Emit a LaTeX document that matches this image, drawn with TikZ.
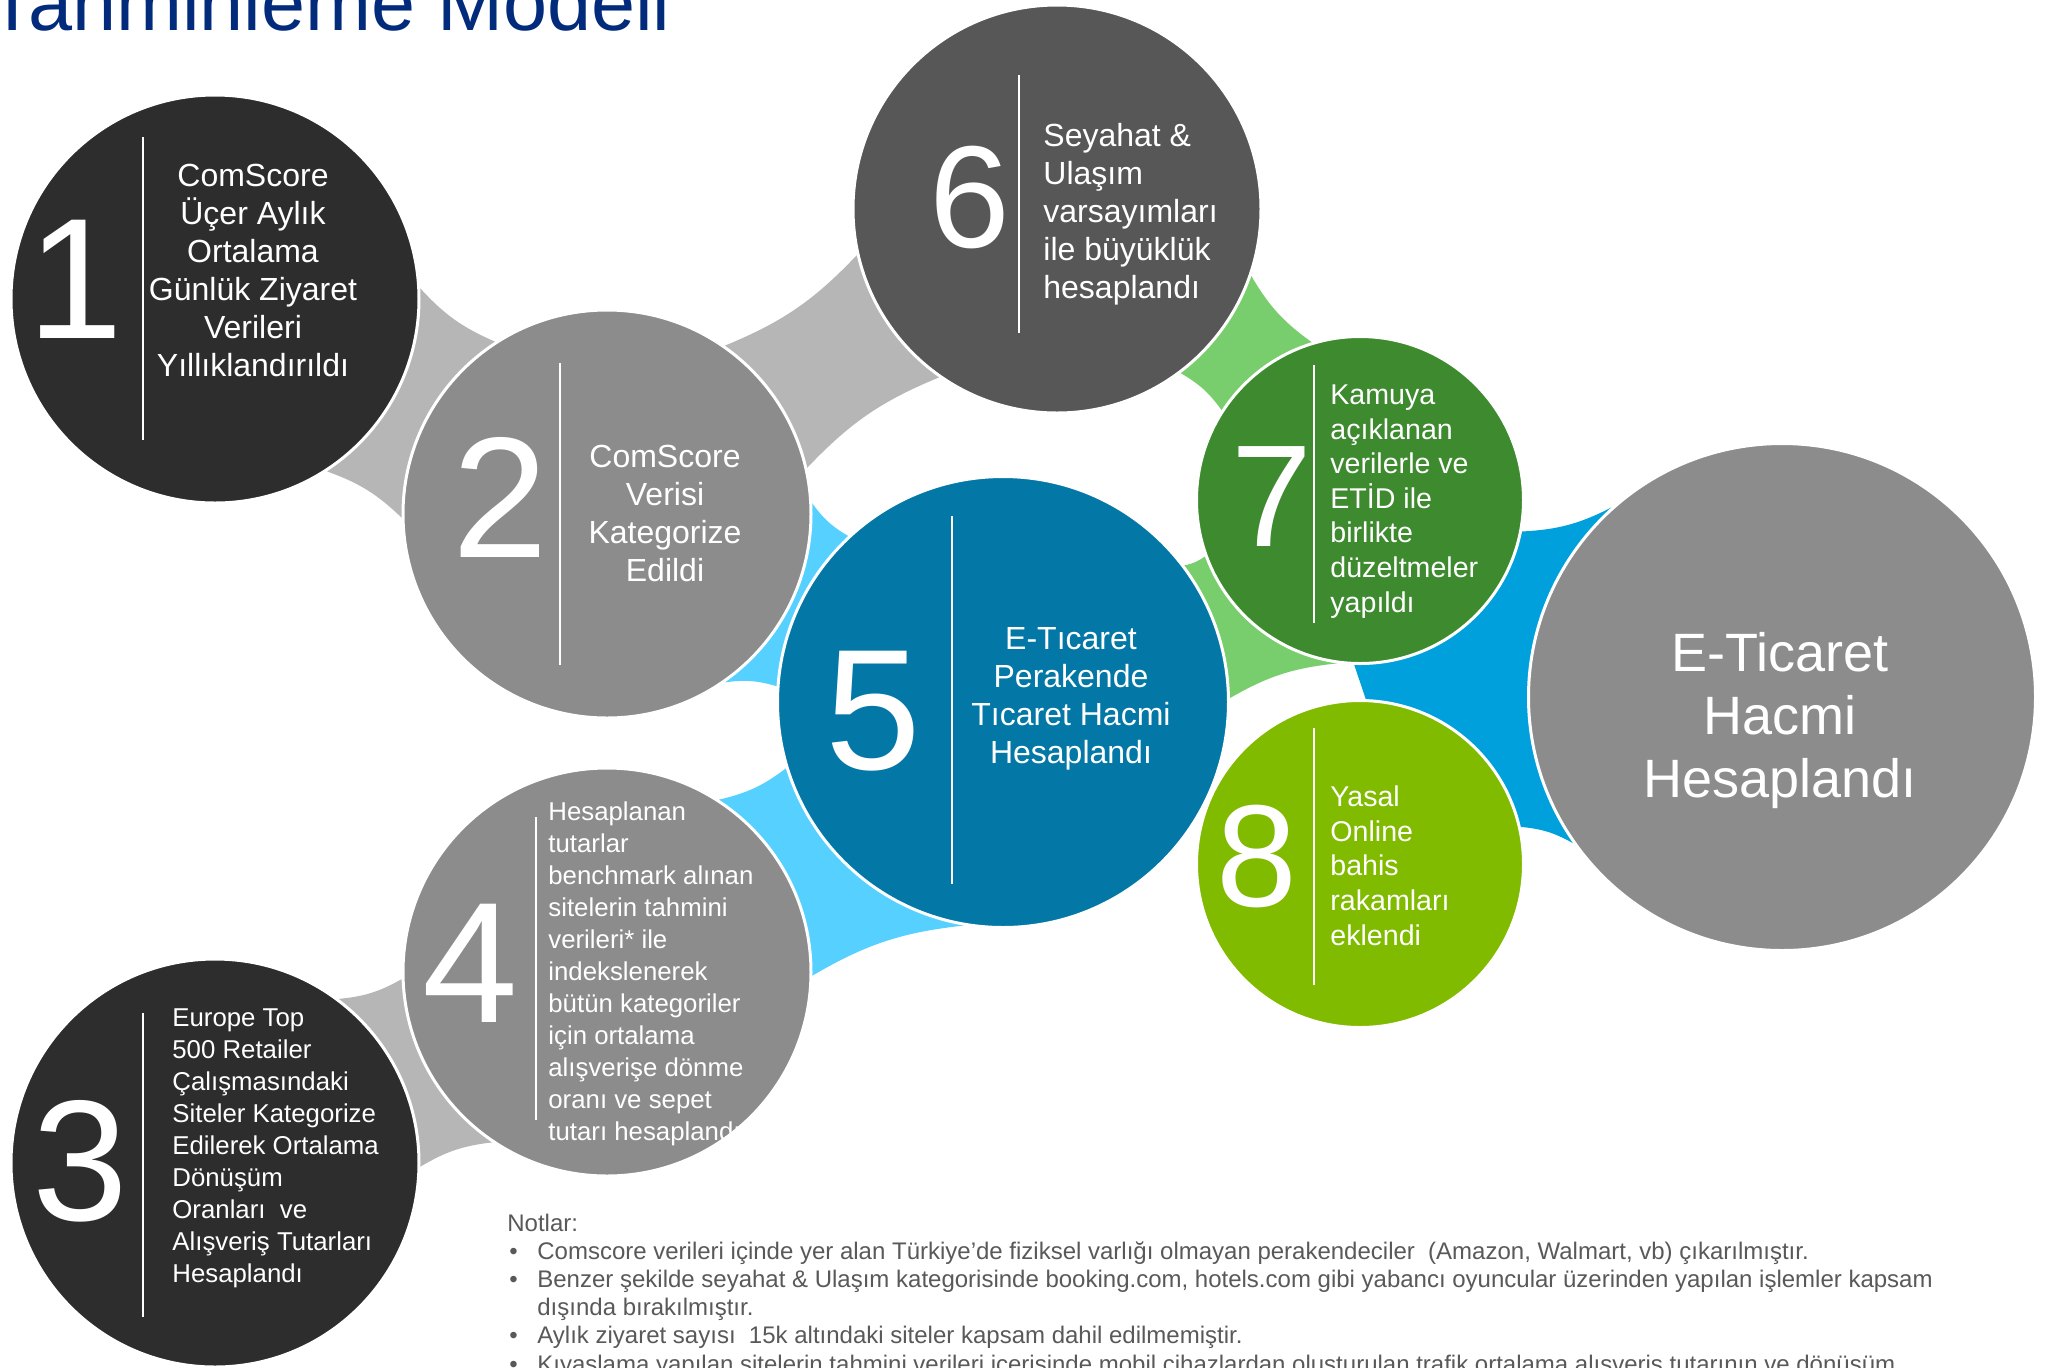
\documentclass[tikz,border=0pt]{standalone}
\usepackage{fontspec}
\setmainfont{Liberation Sans}
\usetikzlibrary{backgrounds}

\definecolor{darkstep}{HTML}{2D2D2D}
\definecolor{midstep}{HTML}{8C8C8C}
\definecolor{travelstep}{HTML}{575757}
\definecolor{tealstep}{HTML}{0378A6}
\definecolor{greenstep}{HTML}{3E8A2F}
\definecolor{limestep}{HTML}{80BB00}
\definecolor{graylink}{HTML}{B6B6B6}
\definecolor{skylink}{HTML}{55D0FF}
\definecolor{greenlink}{HTML}{78CD6C}
\definecolor{bluelink}{HTML}{00A0DC}
\definecolor{titleblue}{HTML}{022B7C}
\definecolor{notegray}{HTML}{595959}

\newcommand{\notebullet}{\makebox[15pt][l]{\hspace{1pt}\textbullet}}

\tikzset{
stepcircle/.style={circle, draw=white, line width=1.5pt, inner sep=0pt},
stepnum/.style={text=white, inner sep=0pt, font=\fontsize{86}{86}\selectfont},
smallnum/.style={text=white, inner sep=0pt, font=\fontsize{72.6}{72.6}\selectfont},
widetxt/.style={text=white, inner sep=0pt, font=\fontsize{16}{19}\selectfont},
greentxt/.style={text=white, inner sep=0pt, align=left, font=\fontsize{14.3}{17.3}\selectfont},
smalltxt/.style={text=white, inner sep=0pt, align=left, font=\fontsize{12.9}{16}\selectfont},
totaltxt/.style={text=white, inner sep=0pt, align=center, font=\fontsize{27}{31.5}\selectfont},
divider/.style={white, line width=1pt},
link/.style={bend right=12},
}

\begin{document}
\begin{tikzpicture}[x=0.5pt, y=-0.5pt]
\useasboundingbox (0,0) rectangle (2053,1367);
\clip (0,0) rectangle (2053,1367);

%% title;
\node[anchor=base west, inner sep=0pt, text=titleblue, font=\fontsize{39.6}{39.6}\selectfont] (title) at (-12,30) {Tahminleme Modeli};

%% steps;
\node[stepcircle, fill=darkstep, minimum size=204pt] (c1) at (215,299) {};
\node[stepcircle, fill=midstep, minimum size=204pt] (c2) at (607,514) {};
\node[stepcircle, fill=darkstep, minimum size=204pt] (c3) at (215,1163) {};
\node[stepcircle, fill=midstep, minimum size=204pt] (c4) at (607,972) {};
\node[stepcircle, fill=tealstep, minimum size=225.5pt] (c5) at (1003,702) {};
\node[stepcircle, fill=travelstep, minimum size=204pt] (c6) at (1057,209) {};
\node[stepcircle, fill=greenstep, minimum size=163.5pt] (c7) at (1360,500) {};
\node[stepcircle, fill=limestep, minimum size=163.5pt] (c8) at (1360,864) {};
\node[stepcircle, fill=midstep, minimum size=253.5pt] (total) at (1782,697) {};

%% links;
\begin{scope}[on background layer]
\fill[white] (0,0) rectangle (2053,1367);
\fill[graylink] (c1.3) to[link] (c2.123) -- (c2.center) -- (c2.181) to[link] (c1.-57) -- (c1.center) -- cycle;
\fill[graylink] (c2.55) to[link] (c6.193) -- (c6.center) -- (c6.235) to[link] (c2.13) -- (c2.center) -- cycle;
\fill[graylink] (c3.53) to[link] (c4.182) -- (c4.center) -- (c4.236) to[link] (c3.-1) -- (c3.center) -- cycle;
\fill[skylink] (c2.3) to[link] (c5.133) -- (c5.center) -- (c5.176) to[link] (c2.-55) -- (c2.center) -- cycle;
\fill[skylink] (c4.57) to[link] (c5.197) -- (c5.center) -- (c5.260) to[link] (c4.-1) -- (c4.center) -- cycle;
\fill[greenlink] (c6.-19) to[link] (c7.107) -- (c7.center) -- (c7.147) to[link] (c6.-53) -- (c6.center) -- cycle;
\fill[greenlink] (c5.37) to[link] (c7.200) -- (c7.center) -- (c7.262) to[link] (c5.1) -- (c5.center) -- cycle;
\fill[bluelink] (c7.-11) to[link] (total.132) -- (total.center) -- (total.215) to[link] (c8.13) -- (c8.center) -- (c8.88) -- (c7.268) -- (c7.center) -- cycle;
\end{scope}

%% dividers;
\draw[divider] (143,137) -- (143,440);
\draw[divider] (560,363) -- (560,665);
\draw[divider] (143,1013) -- (143,1317);
\draw[divider] (536,817) -- (536,1120);
\draw[divider] (952,516) -- (952,884);
\draw[divider] (1019,75) -- (1019,333);
\draw[divider] (1314,365) -- (1314,623);
\draw[divider] (1314,728) -- (1314,985);

%% numbers;
\node[stepnum] (n1) at (75,279) {1};
\node[stepnum] (n2) at (500,497) {2};
\node[stepnum] (n3) at (80,1161) {3};
\node[stepnum] (n4) at (470,963) {4};
\node[stepnum] (n5) at (873,711) {5};
\node[smallnum] (n6) at (970,198) {6};
\node[smallnum] (n7) at (1272,497) {7};
\node[smallnum] (n8) at (1257,857) {8};

%% texts (anchored on the last line);
\node[widetxt, align=center, anchor=base] (t1) at (253,376) {ComScore\\Üçer Aylık\\Ortalama\\Günlük Ziyaret\\Verileri\\Yıllıklandırıldı};
\node[widetxt, align=center, anchor=base] (t2) at (665,581) {ComScore\\Verisi\\Kategorize\\Edildi};
\node[smalltxt, anchor=base west] (t3) at (172,1282) {Europe Top\\500 Retailer\\Çalışmasındaki\\Siteler Kategorize\\Edilerek Ortalama\\Dönüşüm\\Oranları\ \ ve\\Alışveriş Tutarları\\Hesaplandı};
\node[smalltxt, anchor=base west] (t4) at (548,1140) {Hesaplanan\\tutarlar\\benchmark alınan\\sitelerin tahmini\\verileri* ile\\indekslenerek\\bütün kategoriler\\için ortalama\\alışverişe dönme\\oranı ve sepet\\tutarı hesaplandı};
\node[widetxt, align=center, anchor=base] (t5) at (1071,763) {E-Tıcaret\\Perakende\\Tıcaret Hacmi\\Hesaplandı};
\node[widetxt, align=left, anchor=base west] (t6) at (1043,298) {Seyahat \&\\Ulaşım\\varsayımları\\ile büyüklük\\hesaplandı};
\node[greentxt, anchor=base west] (t7) at (1330,612) {Kamuya\\açıklanan\\verilerle ve\\ETİD ile\\birlikte\\düzeltmeler\\yapıldı};
\node[greentxt, anchor=base west] (t8) at (1330,945) {Yasal\\Online\\bahis\\rakamları\\eklendi};
\node[totaltxt, anchor=base] (ttotal) at (1780,797) {E-Ticaret\\Hacmi\\Hesaplandı};

%% notes;
\node[anchor=base west, inner sep=0pt, align=left, text=notegray, font=\fontsize{12}{14.1}\selectfont] (notes) at (507,1372) {Notlar:\\
\notebullet Comscore verileri içinde yer alan Türkiye’de fiziksel varlığı olmayan perakendeciler\ \ (Amazon, Walmart, vb) çıkarılmıştır.\\
\notebullet Benzer şekilde seyahat \& Ulaşım kategorisinde booking.com, hotels.com gibi yabancı oyuncular üzerinden yapılan işlemler kapsam\\
\hspace*{15pt}dışında bırakılmıştır.\\
\notebullet Aylık ziyaret sayısı\ \ 15k altındaki siteler kapsam dahil edilmemiştir.\\
\notebullet Kıyaslama yapılan sitelerin tahmini verileri içerisinde mobil cihazlardan oluşturulan trafik ortalama alışveriş tutarının ve dönüşüm};
\end{tikzpicture}
\end{document}
